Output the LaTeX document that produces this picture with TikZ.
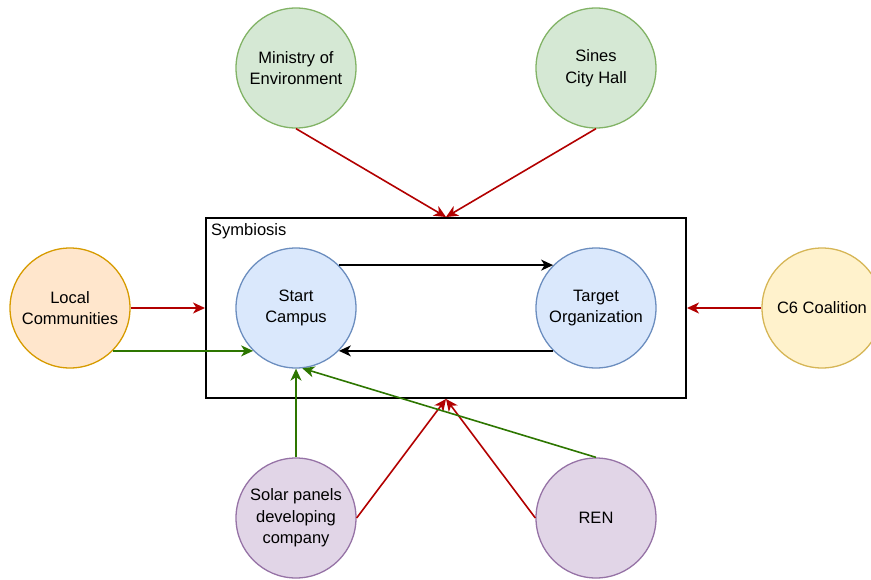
\documentclass[tikz,border=0pt]{standalone}
\usepackage{fontspec}
\setmainfont{Liberation Sans}
\usepackage{tikz}
\usetikzlibrary{arrows.meta}
\definecolor{govfill}{HTML}{D5E8D4}
\definecolor{govline}{HTML}{82B366}
\definecolor{locfill}{HTML}{FFE6CC}
\definecolor{locline}{HTML}{D79B00}
\definecolor{corefill}{HTML}{DAE8FC}
\definecolor{coreline}{HTML}{6C8EBF}
\definecolor{ngofill}{HTML}{FFF2CC}
\definecolor{ngoline}{HTML}{D6B656}
\definecolor{indfill}{HTML}{E1D5E7}
\definecolor{indline}{HTML}{9673A6}
\definecolor{infl}{HTML}{B20000}
\definecolor{supp}{HTML}{2D7600}
\tikzset{
  actor/.style={circle,minimum size=120pt,inner sep=0pt,align=center,
                line width=1.3pt,font=\fontsize{16.5}{21.5}\selectfont},
  gov/.style={actor,draw=govline,fill=govfill},
  loc/.style={actor,draw=locline,fill=locfill},
  core/.style={actor,draw=coreline,fill=corefill},
  ngo/.style={actor,draw=ngoline,fill=ngofill},
  ind/.style={actor,draw=indline,fill=indfill},
  symbox/.style={draw=black,line width=2pt,minimum width=480pt,minimum height=180pt,inner sep=0pt},
  pull/.style={-{Stealth[length=12pt,width=11pt,inset=3.5pt]},line width=1.6pt,draw=infl},
  push/.style={-{Stealth[length=12pt,width=11pt,inset=3.5pt]},line width=1.6pt,draw=supp},
  link/.style={-{Stealth[length=12pt,width=11pt,inset=3.5pt]},line width=1.6pt,draw=black},
}

\begin{document}
\begin{tikzpicture}[x=1pt,y=-1pt]
  \useasboundingbox (0,0) rectangle (871,579);

  % ---------------- symbiosis box ----------------
  \node[symbox] (sym) at (446,308) {};
  \node[anchor=north west,inner sep=0pt,font=\fontsize{16.5}{21.5}\selectfont]
    (symlbl) at (211,223.5) {Symbiosis};

  % ---------------- actors ----------------
  \node[gov] (min) at (296,68) {Ministry of\\Environment};
  \node[gov] (sines) at (596,68) {Sines\\City Hall};
  \node[loc] (local) at (70,308) {Local\\Communities};
  \node[core] (start) at (296,308) {Start\\Campus};
  \node[core] (target) at (596,308) {Target\\Organization};
  \node[ngo] (c6) at (822,308) {C6 Coalition};
  \node[ind] (solar) at (296,518) {Solar panels\\developing\\company};
  \node[ind] (ren) at (596,518) {REN};

  % influence on the symbiosis
  \draw[pull] (min.south) -- (sym.north);
  \draw[pull] (sines.south) -- (sym.north);
  \draw[pull] (local.east) -- (sym.west);
  \draw[pull] (c6.west) -- (sym.east);
  \draw[pull] (solar.east) -- (sym.south);
  \draw[pull] (ren.west) -- (sym.south);

  % support to Start Campus
  \draw[push] (local.-45) -- (start.225);
  \draw[push] (solar.north) -- (start.south);
  \draw[push] (ren.north) -- (start.-84);

  % inside the symbiosis
  \draw[link] (start.45) -- (target.135);
  \draw[link] (target.225) -- (start.-45);
\end{tikzpicture}
\end{document}
